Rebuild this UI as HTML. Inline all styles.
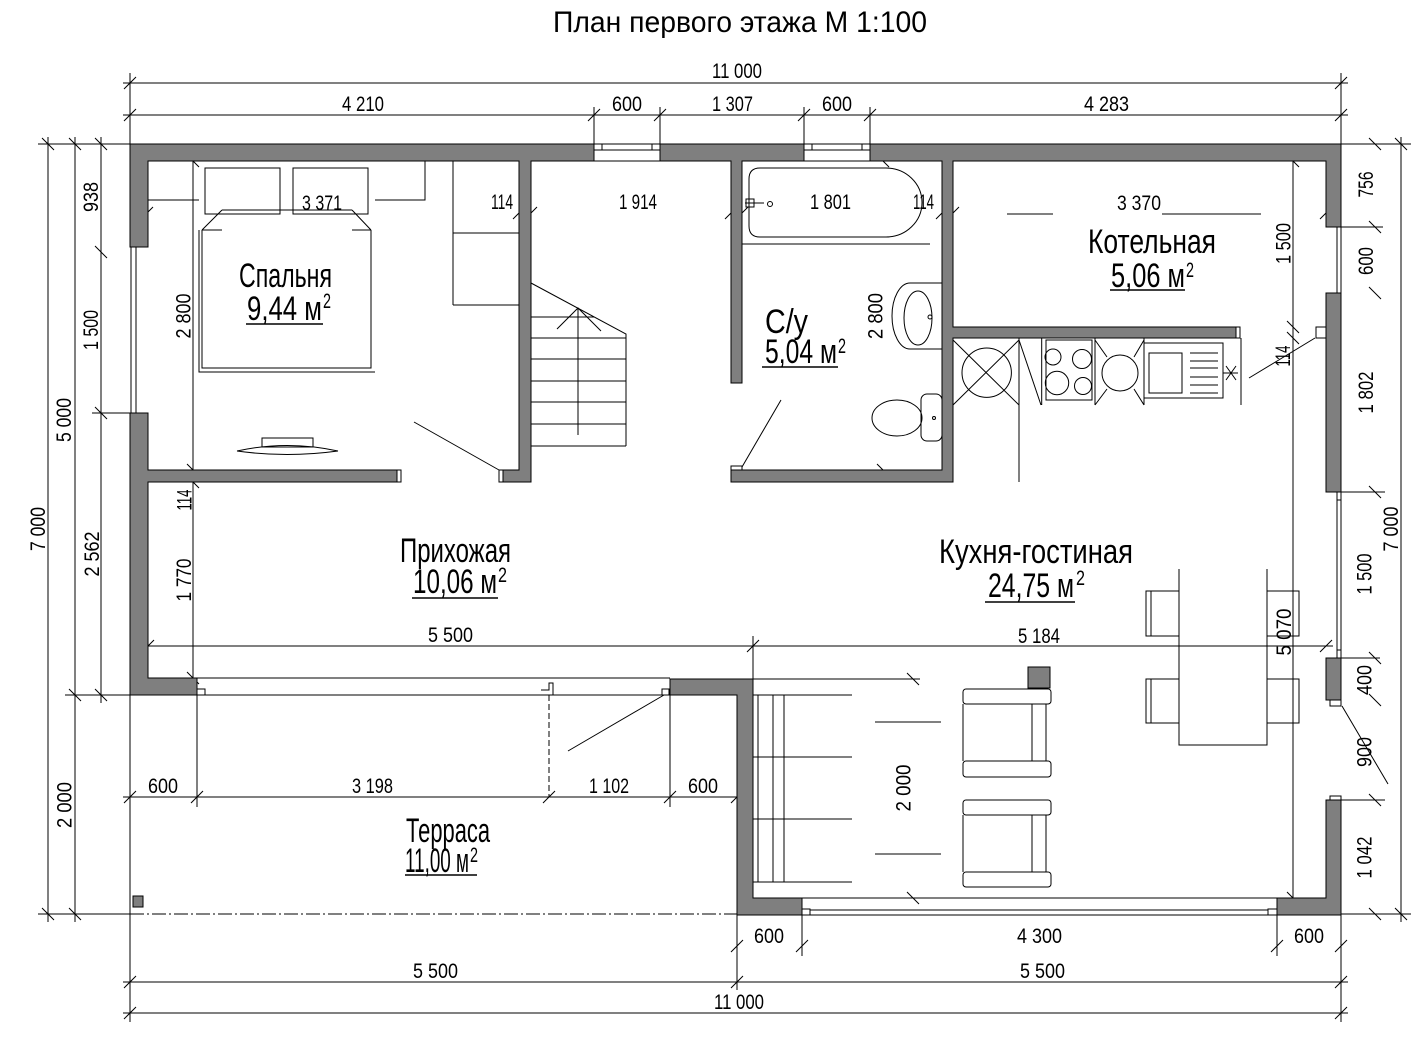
<!DOCTYPE html>
<html><head><meta charset="utf-8">
<style>
html,body{margin:0;padding:0;background:#fff;}
svg{display:block;}
text{font-family:"Liberation Sans",sans-serif;fill:#000;}
.d{font-size:21px;}
.r{font-size:34px;}
</style></head><body>
<svg width="1417" height="1037" viewBox="0 0 1417 1037" xmlns="http://www.w3.org/2000/svg">
<rect width="1417" height="1037" fill="#fff"/>

<!-- Dimension / extension lines -->
<g stroke="#000" stroke-width="1" fill="none">
<path d="M123 83H1348M123 115H1348M130 73V144M1341 73V144M594 107V144M660 107V144M804 107V144M870 107V144"/>
<path d="M38 144H130M48 137V922M75 137V922M101 137V703M92 413H130M65 695H670M38 914H130"/>
<path d="M1341 144H1411M1341 227H1383M1341 492H1385M1341 658H1380M1341 800H1385M1341 914H1411M1401 137V922"/>
<path d="M130 695V1022M1341 915V1022M737 915V990M802 915V956M1277 915V956M123 982H1348M123 1013H1348"/>
<path d="M123 797H745M197 678V807M670 695V807M148 646H1333M753 636V679M193 155V678M1293 155V905M753 679H920"/>
<path d="M549 695V797" stroke-dasharray="6 3"/>
<path d="M130 914H737" stroke-dasharray="14 3 2 3"/>
<!-- ticks horizontal dims -->
<path d="M124 89l12-12M1335 89l12-12M124 121l12-12M588 121l12-12M654 121l12-12M798 121l12-12M864 121l12-12M1335 121l12-12M731 952l12-12M796 952l12-12M1271 952l12-12M1335 952l12-12M124 988l12-12M731 988l12-12M1335 988l12-12M124 1019l12-12M1335 1019l12-12M124 803l12-12M191 803l12-12M543 803l12-12M664 803l12-12M731 803l12-12M142 652l12-12M747 652l12-12M1320 652l12-12M141 219l12-12M513 219l12-12M525 219l12-12M725 219l12-12M736 219l12-12M936 219l12-12M947 219l12-12M1320 219l12-12"/>
<!-- ticks vertical dims -->
<path d="M42 138l12 12M42 908l12 12M69 138l12 12M69 689l12 12M69 908l12 12M95 138l12 12M95 246l12 12M95 407l12 12M95 689l12 12M1369 138l12 12M1369 221l12 12M1369 287l12 12M1369 486l12 12M1369 652l12 12M1369 694l12 12M1369 794l12 12M1369 908l12 12M1395 138l12 12M1395 908l12 12M187 155l12 12M187 464l12 12M187 476l12 12M187 672l12 12M877 155l12 12M877 464l12 12M1287 155l12 12M1287 321l12 12M1287 332l12 12M1287 892l12 12M907 673l12 12M907 892l12 12"/>
<!-- partial interior dim lines -->
<path d="M1007 214H1053M1162 214H1261"/>
</g>

<!-- Walls -->
<g fill="#7f7f7f" stroke="#000" stroke-width="1">
<path d="M130 247V144H594V161H531V482H503V470H519V161H148V247Z"/>
<path d="M130 413H148V470H397V482H148V678H197V695H130Z"/>
<path d="M660 144H804V161H742V383H731V161H660Z"/>
<path d="M870 144H1341V227H1326V161H953V327H1236V338H953V482H731V470H942V161H870Z"/>
<path d="M1326 293H1341V492H1326Z"/>
<path d="M1326 658H1341V700H1326Z"/>
<path d="M1326 800H1341V915H1277V898H1326Z"/>
<path d="M670 679H753V898H802V915H737V695H670Z"/>
<rect x="133" y="896" width="10" height="11"/>
<rect x="1028" y="667" width="22" height="21"/>
</g>

<!-- Jambs, windows, glazing -->
<g fill="#fff" stroke="#000" stroke-width="1">
<rect x="397" y="470" width="4" height="12"/>
<rect x="499" y="470" width="4" height="12"/>
<rect x="731" y="466" width="11" height="4"/>
<rect x="1236" y="327" width="4" height="11"/>
<rect x="1316" y="327" width="10" height="11"/>
<rect x="1330" y="700" width="11" height="6"/>
<rect x="1330" y="796" width="11" height="4"/>
<rect x="594" y="144" width="66" height="17"/>
<rect x="804" y="144" width="66" height="17"/>
<rect x="197" y="689" width="8" height="6"/>
<rect x="662" y="689" width="7" height="6"/>
<rect x="802" y="909" width="8" height="6"/>
<rect x="1268" y="909" width="9" height="6"/>
</g>
<g stroke="#000" stroke-width="1" fill="none">
<path d="M594 150H660M602 144V150M652 144V150M804 150H870M812 144V150M862 144V150"/>
<path d="M131 247V413M136 247V413M130 247H148M130 413H148"/>
<path d="M1337 227V293M1341 227V293M1326 227H1341M1326 293H1341"/>
<path d="M1337 492V658M1341 492V658M1326 492H1341M1326 658H1341M1337 500H1341M1337 650H1341"/>
<path d="M197 678H670"/>
<path d="M541 690H549V683H553V695"/>
<path d="M753 898H1277M810 910H1268M810 915H1268"/>
<!-- door swings -->
<path d="M414 422L499 470M781 400L742 467M1249 378L1315 338M568 751L664 695M1342 706L1388 784"/>
</g>

<!-- Furniture -->
<g stroke="#000" stroke-width="1" fill="none">
<!-- bedroom -->
<path d="M148 200H199M375 200H425V161"/>
<rect x="205" y="168" width="75" height="46"/>
<rect x="293" y="168" width="75" height="46"/>
<path d="M199 230V372H375M202 230V368H371V230M222 210H352M222 210L202 230M352 210L371 230M202 230H222M352 230H371"/>
<path d="M237 451Q287 440 338 451M237 451Q287 458 338 451"/>
<rect x="262" y="438" width="51" height="9"/>
<!-- under-stair closet -->
<path d="M453 161V305M453 233H519M453 305H519"/>
<!-- stairs -->
<path d="M531 283L626 334V446M531 317H594M531 338H626M531 359H626M531 381H626M531 402H626M531 424H626M531 446H626"/>
<path d="M578 308V435M557 329L578 308L601 331"/>
<!-- bathtub -->
<path d="M760 168H886A36 34.5 0 0 1 886 237H760Q749 237 749 226V179Q749 168 760 168Z"/>
<path d="M742 244H930M745 203H764"/>
<rect x="746" y="199" width="8" height="8"/>
<circle cx="770" cy="204" r="2.5"/>
<!-- sink -->
<path d="M942 283H910A18 33 0 0 0 910 349H942"/>
<ellipse cx="918" cy="318" rx="14" ry="27"/>
<circle cx="930" cy="317" r="2"/>
<!-- toilet -->
<ellipse cx="897" cy="418" rx="25" ry="18"/>
<rect x="921" y="394" width="21" height="47" rx="6"/>
<circle cx="934" cy="418" r="1.5"/>
<!-- kitchen -->
<path d="M1019 338V482M953 340L1019 405M1019 340L953 405M1019 340L1041 405M1041.7 338V405M1095 338V405M1144 338V405M1241 338V405"/>
<circle cx="986.7" cy="372.7" r="24.7"/>
<rect x="1046" y="340" width="46" height="60"/>
<circle cx="1053" cy="357" r="8"/>
<circle cx="1082" cy="359" r="9.5"/>
<circle cx="1057" cy="383" r="11.7"/>
<circle cx="1083" cy="386" r="8.5"/>
<circle cx="1120" cy="373" r="18"/>
<path d="M1095 340L1107 357M1144 340L1134 357M1095 405L1107 389M1144 405L1134 389"/>
<rect x="1144" y="343" width="79" height="55"/>
<rect x="1149" y="353" width="33" height="40"/>
<path d="M1190 353H1218M1190 361H1218M1190 368H1218M1190 377H1218M1190 385H1218M1190 393H1218"/>
<path d="M1223 373H1238M1226 366L1236 380M1236 366L1226 380"/>
<!-- sofa -->
<path d="M753 695H852M753 757H852M753 819H852M753 882H852M758 695V882M773 695V882M784 695V882"/>
<path d="M875 722H941M875 854H941"/>
<!-- armchairs -->
<rect x="963" y="689" width="88" height="15" rx="3"/>
<rect x="963" y="761" width="88" height="16" rx="3"/>
<path d="M963 704V761M1032 704V761M1046 704V761"/>
<rect x="963" y="800" width="88" height="15" rx="3"/>
<rect x="963" y="872" width="88" height="15" rx="3"/>
<path d="M963 815V872M1032 815V872M1046 815V872"/>
<!-- dining -->
<path d="M1179 569V745H1267V569"/>
<rect x="1146" y="591" width="33" height="45"/>
<rect x="1146" y="679" width="33" height="44"/>
<path d="M1151 591V636M1151 679V723"/>
<rect x="1267" y="591" width="32" height="45"/>
<rect x="1267" y="679" width="32" height="44"/>
</g>

<!-- Title -->
<text x="553" y="32" font-size="30" textLength="374" lengthAdjust="spacingAndGlyphs">План первого этажа М 1:100</text>

<!-- Horizontal dimension labels -->
<g class="d">
<text x="712" y="78" textLength="50" lengthAdjust="spacingAndGlyphs">11 000</text>
<text x="342" y="111" textLength="42" lengthAdjust="spacingAndGlyphs">4 210</text>
<text x="612" y="111" textLength="30" lengthAdjust="spacingAndGlyphs">600</text>
<text x="712" y="111" textLength="41" lengthAdjust="spacingAndGlyphs">1 307</text>
<text x="822" y="111" textLength="30" lengthAdjust="spacingAndGlyphs">600</text>
<text x="1084" y="111" textLength="45" lengthAdjust="spacingAndGlyphs">4 283</text>
<text x="302" y="210" textLength="40" lengthAdjust="spacingAndGlyphs">3 371</text>
<text x="491" y="209" textLength="22" lengthAdjust="spacingAndGlyphs">114</text>
<text x="619" y="209" textLength="38" lengthAdjust="spacingAndGlyphs">1 914</text>
<text x="810" y="209" textLength="41" lengthAdjust="spacingAndGlyphs">1 801</text>
<text x="913" y="209" textLength="21" lengthAdjust="spacingAndGlyphs">114</text>
<text x="1117" y="210" textLength="44" lengthAdjust="spacingAndGlyphs">3 370</text>
<text x="428" y="642" textLength="45" lengthAdjust="spacingAndGlyphs">5 500</text>
<text x="1018" y="643" textLength="42" lengthAdjust="spacingAndGlyphs">5 184</text>
<text x="148" y="793" textLength="30" lengthAdjust="spacingAndGlyphs">600</text>
<text x="352" y="793" textLength="41" lengthAdjust="spacingAndGlyphs">3 198</text>
<text x="589" y="793" textLength="40" lengthAdjust="spacingAndGlyphs">1 102</text>
<text x="688" y="793" textLength="30" lengthAdjust="spacingAndGlyphs">600</text>
<text x="754" y="943" textLength="30" lengthAdjust="spacingAndGlyphs">600</text>
<text x="1017" y="943" textLength="45" lengthAdjust="spacingAndGlyphs">4 300</text>
<text x="1294" y="943" textLength="30" lengthAdjust="spacingAndGlyphs">600</text>
<text x="413" y="978" textLength="45" lengthAdjust="spacingAndGlyphs">5 500</text>
<text x="1020" y="978" textLength="45" lengthAdjust="spacingAndGlyphs">5 500</text>
<text x="714" y="1009" textLength="50" lengthAdjust="spacingAndGlyphs">11 000</text>
</g>

<!-- Vertical dimension labels -->
<g class="d" text-anchor="middle">
<text transform="translate(98 197) rotate(-90)" textLength="30" lengthAdjust="spacingAndGlyphs">938</text>
<text transform="translate(98 330) rotate(-90)" textLength="40" lengthAdjust="spacingAndGlyphs">1 500</text>
<text transform="translate(71 420) rotate(-90)" textLength="44" lengthAdjust="spacingAndGlyphs">5 000</text>
<text transform="translate(190.5 316) rotate(-90)" textLength="45" lengthAdjust="spacingAndGlyphs">2 800</text>
<text transform="translate(45 529) rotate(-90)" textLength="44" lengthAdjust="spacingAndGlyphs">7 000</text>
<text transform="translate(99 554) rotate(-90)" textLength="45" lengthAdjust="spacingAndGlyphs">2 562</text>
<text transform="translate(191.5 500) rotate(-90)" textLength="21" lengthAdjust="spacingAndGlyphs">114</text>
<text transform="translate(191 580) rotate(-90)" textLength="43" lengthAdjust="spacingAndGlyphs">1 770</text>
<text transform="translate(71.5 805) rotate(-90)" textLength="46" lengthAdjust="spacingAndGlyphs">2 000</text>
<text transform="translate(882.5 316) rotate(-90)" textLength="46" lengthAdjust="spacingAndGlyphs">2 800</text>
<text transform="translate(1290.5 243.5) rotate(-90)" textLength="41" lengthAdjust="spacingAndGlyphs">1 500</text>
<text transform="translate(1290 356) rotate(-90)" textLength="21" lengthAdjust="spacingAndGlyphs">114</text>
<text transform="translate(1373 184.5) rotate(-90)" textLength="26" lengthAdjust="spacingAndGlyphs">756</text>
<text transform="translate(1373 261) rotate(-90)" textLength="28" lengthAdjust="spacingAndGlyphs">600</text>
<text transform="translate(1373 392.5) rotate(-90)" textLength="42" lengthAdjust="spacingAndGlyphs">1 802</text>
<text transform="translate(1398 529) rotate(-90)" textLength="45" lengthAdjust="spacingAndGlyphs">7 000</text>
<text transform="translate(1371.5 574) rotate(-90)" textLength="41" lengthAdjust="spacingAndGlyphs">1 500</text>
<text transform="translate(1371.5 680) rotate(-90)" textLength="30" lengthAdjust="spacingAndGlyphs">400</text>
<text transform="translate(1371.5 752) rotate(-90)" textLength="30" lengthAdjust="spacingAndGlyphs">900</text>
<text transform="translate(1371.5 857.5) rotate(-90)" textLength="42" lengthAdjust="spacingAndGlyphs">1 042</text>
<text transform="translate(1291 632) rotate(-90)" textLength="47" lengthAdjust="spacingAndGlyphs">5 070</text>
<text transform="translate(910.5 788) rotate(-90)" textLength="47" lengthAdjust="spacingAndGlyphs">2 000</text>
</g>

<!-- Room labels -->
<g class="r">
<text x="239" y="287" textLength="93" lengthAdjust="spacingAndGlyphs">Спальня</text>
<text x="247" y="320" textLength="75" lengthAdjust="spacingAndGlyphs">9,44 м</text>
<text x="765" y="333" textLength="43" lengthAdjust="spacingAndGlyphs">С/у</text>
<text x="765" y="363" textLength="72" lengthAdjust="spacingAndGlyphs">5,04 м</text>
<text x="1088" y="253" textLength="128" lengthAdjust="spacingAndGlyphs">Котельная</text>
<text x="1111" y="287" textLength="74" lengthAdjust="spacingAndGlyphs">5,06 м</text>
<text x="400" y="562" textLength="111" lengthAdjust="spacingAndGlyphs">Прихожая</text>
<text x="413" y="593" textLength="84" lengthAdjust="spacingAndGlyphs">10,06 м</text>
<text x="939" y="563" textLength="194" lengthAdjust="spacingAndGlyphs">Кухня-гостиная</text>
<text x="988" y="597" textLength="86" lengthAdjust="spacingAndGlyphs">24,75 м</text>
<text x="406" y="842" textLength="84" lengthAdjust="spacingAndGlyphs">Терраса</text>
<text x="405" y="872" textLength="64" lengthAdjust="spacingAndGlyphs">11,00 м</text>
</g>
<g class="d">
<text x="323" y="308" textLength="8" lengthAdjust="spacingAndGlyphs">2</text>
<text x="838" y="353" textLength="8" lengthAdjust="spacingAndGlyphs">2</text>
<text x="1186" y="277" textLength="8" lengthAdjust="spacingAndGlyphs">2</text>
<text x="498" y="582" textLength="9" lengthAdjust="spacingAndGlyphs">2</text>
<text x="1076" y="585" textLength="9" lengthAdjust="spacingAndGlyphs">2</text>
<text x="470" y="862" textLength="8" lengthAdjust="spacingAndGlyphs">2</text>
</g>
<g stroke="#000" stroke-width="1.5" fill="none">
<path d="M246 324H323M762 367H838M1110 290H1185M412 598H498M985 602H1075M405 875H477"/>
</g>
</svg>
</body></html>
